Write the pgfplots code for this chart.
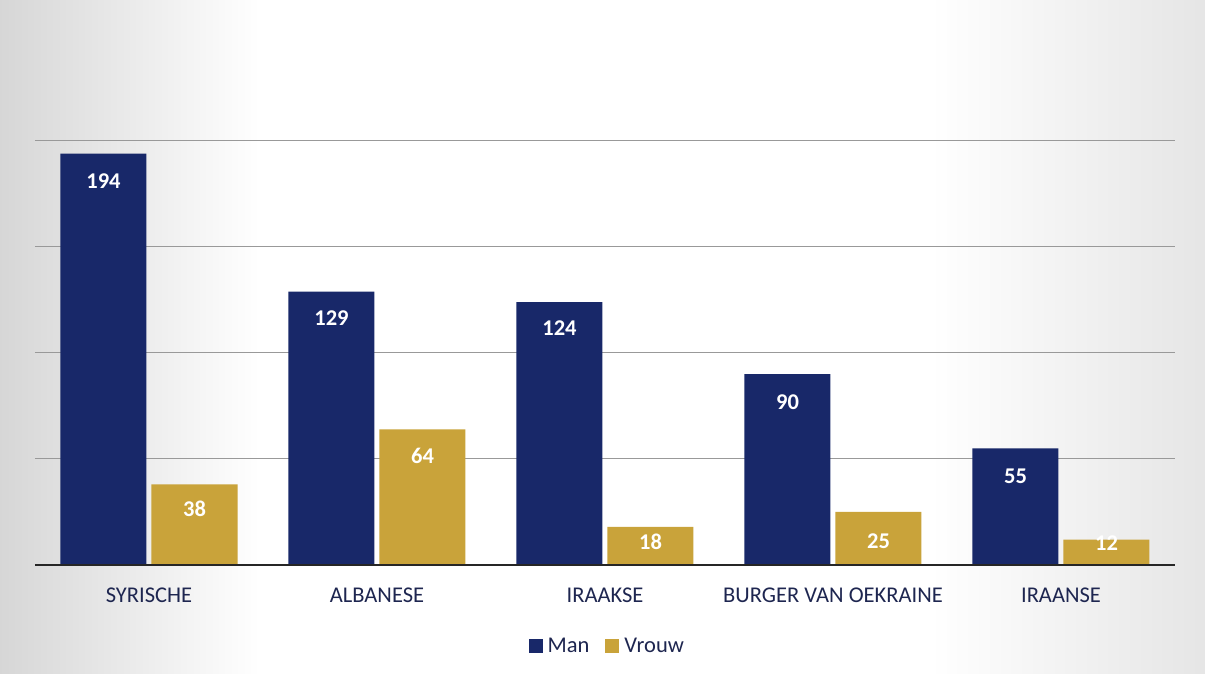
\documentclass[border=0pt]{standalone}
\usepackage{pgfplots}
\pgfplotsset{compat=1.18}
\usepackage{fontspec}
\setmainfont{Carlito}
\definecolor{navy}{RGB}{24,40,105}
\definecolor{gold}{RGB}{201,163,58}
\definecolor{txt}{RGB}{30,38,80}
\begin{document}
\begin{tikzpicture}
\path[use as bounding box] (0,0) rectangle (1205pt,674pt);
\fill[white] (0,0) rectangle (1205pt,674pt);
\shade[left color=black!16, right color=white] (0,0) rectangle (260pt,674pt);
\shade[left color=white, right color=black!10] (930pt,0) rectangle (1205pt,674pt);
\begin{axis}[
  at={(35pt,109pt)}, anchor=south west,
  scale only axis, width=1140pt, height=530pt,
  xmin=-0.5, xmax=4.5, ymin=0, ymax=250,
  axis line style={draw=none},
  ytick={50,100,150,200}, yticklabels={},
  ymajorgrids, major grid style={black!40, line width=1pt},
  major tick length=0pt,
  xtick={0,1,2,3,4},
  xticklabels={SYRISCHE,ALBANESE,IRAAKSE,BURGER VAN OEKRAINE,IRAANSE},
  xticklabel style={font=\fontsize{22.5}{26}\selectfont, text=txt, yshift=-19pt},
  ybar, bar width=86pt,
  legend style={at={(0.502,-0.153)}, anchor=center, draw=none, fill=none,
    legend columns=2, font=\fontsize{22.5}{26}\selectfont, text=txt,
    /tikz/every odd column/.append style={column sep=3pt},
    /tikz/every even column/.append style={column sep=14pt}},
  legend image code/.code={\fill[#1] (0pt,-7pt) rectangle (14pt,7pt);},
  nodes near coords style={font=\bfseries\fontsize{22.5}{26}\selectfont, text=white, anchor=center},
  clip=false,
]
\addplot[fill=navy, draw=none, bar shift=-45.5pt] coordinates {(0,194) (1,129) (2,124) (3,90) (4,55)};
\addlegendentry{Man}
\addplot[fill=gold, draw=none, bar shift=45.5pt] coordinates {(0,38) (1,64) (2,18) (3,25) (4,12)};
\addlegendentry{Vrouw}
% data labels
\addplot[draw=none, fill=none, bar shift=-45.5pt, forget plot, nodes near coords, point meta=explicit symbolic]
  coordinates {(0,181.1)[194] (1,116.5)[129] (2,111.8)[124] (3,76.9)[90] (4,42.0)[55]};
\addplot[draw=none, fill=none, bar shift=45.5pt, forget plot, nodes near coords, point meta=explicit symbolic]
  coordinates {(0,26.4)[38] (1,51.4)[64] (2,10.8)[18] (3,11.3)[25] (4,10.4)[12]};
\draw[black!85, line width=2.5pt] (axis cs:-0.5,0) -- (axis cs:4.5,0);
\end{axis}
\end{tikzpicture}
\end{document}
